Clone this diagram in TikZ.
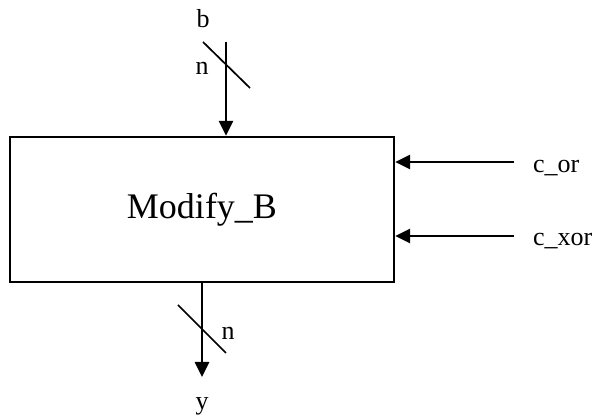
\documentclass[tikz,border=0pt]{standalone}
\usepackage{fontspec}
\setmainfont{Liberation Serif}
\usetikzlibrary{arrows.meta}
\tikzset{
  sig/.style={line width=2.6pt,-{Triangle[length=15pt,width=14pt]}},
  busmark/.style={line width=1.7pt},
  lbl/.style={font=\fontsize{26}{30}\selectfont,inner sep=0pt,anchor=base},
  blk/.style={draw,line width=2.3pt,minimum width=384pt,minimum height=145pt,inner sep=0pt,
    font=\fontsize{36}{42}\selectfont}
}
\begin{document}
\begin{tikzpicture}[x=1pt,y=-1pt]
\useasboundingbox (0,0) rectangle (598,419);
\node[blk] (box) at (202,209.5) {Modify\_B};
% top input b
\coordinate (bt) at (226,42);
\draw[sig] (bt) -- (box.north -| bt);
\coordinate (s1a) at (203,42);
\coordinate (s1b) at (250,88);
\draw[busmark] (s1a) -- (s1b);
\node[lbl] (lb) at (203,28) {b};
\node[lbl] (ln1) at (202,75) {n};
% bottom output y
\coordinate (yt) at (202,377);
\draw[sig] (box.south -| yt) -- (yt);
\coordinate (s2a) at (178,305);
\coordinate (s2b) at (226,353);
\draw[busmark] (s2a) -- (s2b);
\node[lbl] (ln2) at (228,340) {n};
\node[lbl] (ly) at (202,410) {y};
% right inputs
\coordinate (cor) at (514,162);
\coordinate (cxor) at (514,236);
\draw[sig] (cor) -- (box.east |- cor);
\draw[sig] (cxor) -- (box.east |- cxor);
\node[lbl,anchor=base west] (lcor) at (533,173) {c\_or};
\node[lbl,anchor=base west] (lcxor) at (533,246) {c\_xor};
\end{tikzpicture}
\end{document}
